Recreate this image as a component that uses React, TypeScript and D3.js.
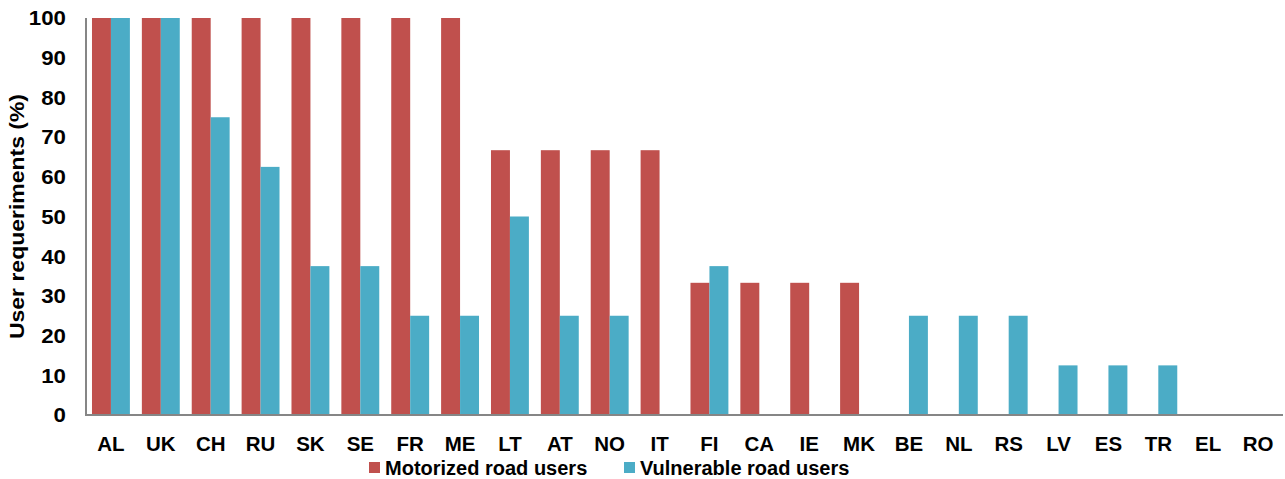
import React from "react";
import * as d3 from "d3";

const countries = ["AL","UK","CH","RU","SK","SE","FR","ME","LT","AT","NO","IT","FI","CA","IE","MK","BE","NL","RS","LV","ES","TR","EL","RO"];
const motorized = [100,100,100,100,100,100,100,100,66.7,66.7,66.7,66.7,33.3,33.3,33.3,33.3,0,0,0,0,0,0,0,0];
const vulnerable = [100,100,75,62.5,37.5,37.5,25,25,50,25,25,0,37.5,0,0,0,25,25,25,12.5,12.5,12.5,0,0];
const yTicks = [0,10,20,30,40,50,60,70,80,90,100];
const seriesNames = ["Motorized road users", "Vulnerable road users"];
const seriesColors = ["#C0504D", "#4BACC6"];

const W = 1285, H = 479;
const left = 86, right = 1283, top = 18, bottom = 415;
const font = "'Liberation Sans', Arial, sans-serif";

export default function App() {
  const x = d3.scaleBand<string>().domain(countries).range([left, right]).paddingInner(0.24).paddingOuter(0.12);
  const inner = d3.scaleBand<number>().domain([0, 1]).range([0, x.bandwidth()]);
  const y = d3.scaleLinear().domain([0, 100]).range([bottom, top]);
  const series = [motorized, vulnerable];

  return (
    <svg width={W} height={H} style={{ position: "absolute", left: 0, top: 0, background: "#fff" }}>
      {series.map((vals, s) =>
        countries.map((c, i) =>
          vals[i] > 0 ? (
            <rect key={`${s}-${c}`} x={(x(c) as number) + (inner(s) as number)} y={y(vals[i])}
              width={inner.bandwidth()} height={bottom - y(vals[i])} fill={seriesColors[s]} />
          ) : null
        )
      )}
      <line x1={left} x2={left} y1={top} y2={bottom + 1} stroke="#868686" strokeWidth={2} />
      <line x1={left - 1} x2={right} y1={bottom} y2={bottom} stroke="#868686" strokeWidth={2} />
      {yTicks.map(t => (
        <text key={t} transform={`translate(66,${y(t)}) scale(1.06,1)`} dy="0.35em" textAnchor="end"
          fontFamily={font} fontWeight="bold" fontSize={21}>{t}</text>
      ))}
      <text transform={`translate(17,${(top + bottom) / 2}) rotate(-90)`} textAnchor="middle" dy="0.35em"
        fontFamily={font} fontWeight="bold" fontSize={21} textLength={245} lengthAdjust="spacingAndGlyphs">User requeriments (%)</text>
      {countries.map(c => (
        <text key={c} x={(x(c) as number) + x.bandwidth() / 2} y={444} dy="0.35em" textAnchor="middle"
          fontFamily={font} fontWeight="bold" fontSize={20.5}>{c}</text>
      ))}
      {seriesNames.map((n, s) => {
        const lx = s === 0 ? 369 : 624;
        return (
          <g key={n}>
            <rect x={lx} y={462} width={11} height={11} fill={seriesColors[s]} />
            <text x={lx + 16} y={468} dy="0.35em" fontFamily={font} fontWeight="bold" fontSize={20}>{n}</text>
          </g>
        );
      })}
    </svg>
  );
}
